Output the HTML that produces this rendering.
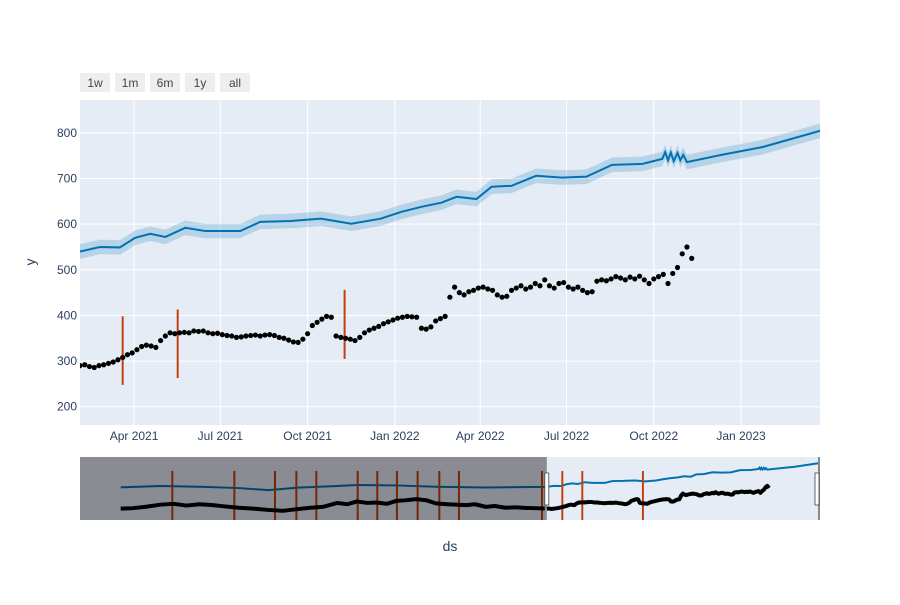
<!DOCTYPE html>
<html><head><meta charset="utf-8"><style>
body{margin:0;background:#fff;font-family:"Liberation Sans",sans-serif}
svg text{font-family:"Liberation Sans",sans-serif}
</style></head><body>
<svg id="c" width="900" height="600" xmlns="http://www.w3.org/2000/svg"></svg>
<script>
// ---- data ----
const actualStart = '2021-02-03';
const actualStepDays = 5;
const actualValues = [290,292,288,286,290,292,295,298,303,308,314,318,325,332,335,333,330,345,355,362,360,362,363,362,366,365,366,362,360,361,358,356,355,352,353,355,356,357,355,357,358,356,352,350,346,342,341,348,360,378,385,392,398,396,355,352,350,348,345,352,362,368,372,376,382,386,390,394,396,398,397,396,372,370,375,388,393,398,440,462,450,445,452,455,460,462,458,455,445,440,442,455,460,465,458,462,470,465,478,465,460,470,472,462,458,462,455,450,452,475,478,476,480,485,482,478,484,480,486,478,470,480,485,490,470,492,505,535,550,525];
const historyDates = ['2017-09-15','2017-10-20','2017-11-25','2018-01-08','2018-02-15','2018-03-25','2018-05-02','2018-06-10','2018-07-15','2018-08-24','2018-10-05','2018-11-18','2018-12-30','2019-02-12','2019-03-20','2019-04-25','2019-06-06','2019-07-05','2019-08-02','2019-09-01','2019-09-28','2019-10-28','2019-11-24','2019-12-20','2020-01-21','2020-02-20','2020-03-18','2020-04-20','2020-06-14','2020-07-10','2020-08-10','2020-09-05','2020-10-06','2020-11-05','2020-12-01','2021-01-01','2021-01-28'];
const historyValues = [290,295,310,335,345,325,340,330,315,300,290,275,265,285,300,310,355,340,372,355,360,345,378,385,398,385,350,340,330,340,310,320,300,305,298,295,292];
const fcDates = ['2017-09-15','2018-01-08','2018-05-02','2018-08-24','2018-11-18','2019-02-12','2019-06-06','2019-08-02','2019-11-24','2020-03-18','2020-08-10','2021-01-28',
 '2021-02-03','2021-02-24','2021-03-17','2021-04-02','2021-04-18','2021-05-04','2021-05-25','2021-06-15','2021-07-22','2021-08-12','2021-09-13','2021-10-15','2021-11-16','2021-12-17','2022-01-08','2022-01-29','2022-02-19','2022-03-07','2022-03-28','2022-04-13','2022-05-04','2022-05-30','2022-06-26','2022-07-22','2022-08-18','2022-09-19','2022-10-10','2022-10-13','2022-10-16','2022-10-19','2022-10-22','2022-10-26','2022-10-29','2022-11-01','2022-11-05','2022-12-12','2023-01-24','2023-04-07'];
const fcValues = [533,548,540,525,501,530,548,560,555,540,532,538,
 540,550,549,570,579,572,592,585,585,605,607,612,601,612,627,638,647,660,655,682,684,706,702,704,730,732,743,758,740,757,738,756,740,752,736,752,769,812];
const fcBand = 16;
const cpDates = ['2018-02-12','2018-08-11','2018-12-07','2019-02-07','2019-04-06','2019-08-04','2019-09-30','2019-11-26','2020-01-25','2020-03-28','2020-05-24','2021-01-20','2021-03-20','2021-05-17','2021-11-09'];
const cpLow = [260,230,200,220,240,280,300,290,320,280,260,220,248,263,305];
const cpHigh = [410,380,350,370,390,430,450,440,470,430,410,370,398,413,456];
const yTicks = [200,300,400,500,600,700,800];
const xTickDates = ['2021-04-01','2021-07-01','2021-10-01','2022-01-01','2022-04-01','2022-07-01','2022-10-01','2023-01-01'];
const xTickLabels = ['Apr 2021','Jul 2021','Oct 2021','Jan 2022','Apr 2022','Jul 2022','Oct 2022','Jan 2023'];
const buttons = ['1w','1m','6m','1y','all'];

// ---- axes ----
const D = s => Date.parse(s+'T00:00:00Z')/86400000;
const P = {l:80,r:820,t:100,b:425};
const mainX0 = D('2021-02-03'), pxPerDay = 0.9484;
const x = d => P.l + (D(d)-mainX0)*pxPerDay;
const xn = n => P.l + (n-mainX0)*pxPerDay;
const yMin=160,yMax=872;
const y = v => P.b - (v-yMin)/(yMax-yMin)*(P.b-P.t);
const S = {l:80,r:820,t:457,b:520};
const sX0 = D('2017-05-20'), sX1 = D('2023-04-07');
const sx = n => S.l + (n-sX0)/(sX1-sX0)*(S.r-S.l);
const sy = v => S.b - (v-160)/(880-160)*(S.b-S.t);

const svg = document.getElementById('c');
const NS='http://www.w3.org/2000/svg';
function mk(tag, attrs, parent){const e=document.createElementNS(NS,tag);for(const k in attrs)e.setAttribute(k,attrs[k]);(parent||svg).appendChild(e);return e;}

const defs = mk('defs',{});
const cp = mk('clipPath',{id:'mc'},defs); mk('rect',{x:P.l,y:P.t,width:P.r-P.l,height:P.b-P.t},cp);
const cs = mk('clipPath',{id:'sc'},defs); mk('rect',{x:S.l,y:S.t,width:S.r-S.l,height:S.b-S.t},cs);

let bg = mk('rect',{x:P.l,y:P.t,width:P.r-P.l,height:P.b-P.t,fill:'#e5ecf6'});



yTicks.forEach(v=>{
  const g=mk('line',{x1:P.l,x2:P.r,y1:y(v),y2:y(v),stroke:'#fff','stroke-width':1});
  
  
  const t=mk('text',{x:P.l-3,y:y(v)+4,'text-anchor':'end','font-size':12,fill:'#2a3f5f'});
  t.textContent=v;
  
  
});
xTickDates.forEach((d,i)=>{
  const g=mk('line',{x1:x(d),x2:x(d),y1:P.t,y2:P.b,stroke:'#fff','stroke-width':1});
  
  
  const t=mk('text',{x:x(d),y:P.b+15,'text-anchor':'middle','font-size':12,fill:'#2a3f5f'});
  t.textContent=xTickLabels[i];
  
  
});

const mg = mk('g',{'clip-path':'url(#mc)'});


let up='',dn='',ln='';
fcDates.forEach((d,i)=>{up+=(i?'L':'M')+x(d)+','+y(fcValues[i]+fcBand);ln+=(i?'L':'M')+x(d)+','+y(fcValues[i]);});
for(let i=fcDates.length-1;i>=0;i--)dn+='L'+x(fcDates[i])+','+y(fcValues[i]-fcBand);
let band=mk('path',{d:up+dn+'Z',fill:'rgba(0,114,178,0.2)'},mg);


let fl=mk('path',{d:ln,fill:'none',stroke:'#0072B2','stroke-width':2},mg);


cpDates.forEach((d,i)=>{
  const l=mk('line',{x1:x(d),x2:x(d),y1:y(cpLow[i]),y2:y(cpHigh[i]),stroke:'#c2410c','stroke-width':2},mg);
  
  
});
const a0=D(actualStart);
actualValues.forEach((v,i)=>{
  const c=mk('circle',{cx:xn(a0+i*actualStepDays),cy:y(v),r:2.6,fill:'#000'},mg);
  
  
});

buttons.forEach((b,i)=>{
  const g=mk('g',{});
  
  
  mk('rect',{x:80+i*35,y:73,width:30,height:19,fill:'#eeeeee'},g);
  const t=mk('text',{x:95+i*35,y:87,'text-anchor':'middle','font-size':12,fill:'#444'},g);
  t.textContent=b;
});

let yt=mk('text',{x:35,y:262,'text-anchor':'middle','font-size':14,fill:'#2a3f5f',transform:'rotate(-90 35 262)'});
yt.textContent='y';


let xt=mk('text',{x:450,y:551,'text-anchor':'middle','font-size':14,fill:'#2a3f5f'});
xt.textContent='ds';



const sg=mk('g',{'clip-path':'url(#sc)'});


mk('rect',{x:S.l,y:S.t,width:S.r-S.l,height:S.b-S.t,fill:'#e5ecf6'},sg);
let sl='';
fcDates.forEach((d,i)=>{sl+=(i?'L':'M')+sx(D(d))+','+sy(fcValues[i]);});
mk('path',{d:sl,fill:'none',stroke:'#0072B2','stroke-width':2},sg);
cpDates.forEach(d=>{
  const l=mk('line',{x1:sx(D(d)),x2:sx(D(d)),y1:471,y2:S.b,stroke:'#c2410c','stroke-width':2},sg);
  
  
});
let hl='';
historyDates.forEach((d,i)=>{hl+=(i?'L':'M')+sx(D(d))+','+sy(historyValues[i]);});
mk('path',{d:hl,fill:'none',stroke:'#000','stroke-width':4,'stroke-linejoin':'round'},sg);
let al='';
actualValues.forEach((v,i)=>{al+=(i?'L':'M')+sx(a0+i*actualStepDays)+','+sy(v);});
mk('path',{d:al,fill:'none',stroke:'#000','stroke-width':4,'stroke-linejoin':'round'},sg);
const selL=sx(mainX0);
let mask=mk('rect',{x:S.l,y:S.t,width:selL-S.l,height:S.b-S.t,fill:'rgba(0,0,0,0.4)'},sg);


let h1=mk('rect',{x:selL-2,y:473,width:4,height:32,fill:'#fff',stroke:'#444','stroke-width':0.8});


mk('rect',{x:818,y:S.t,width:2,height:S.b-S.t,fill:'#888'});
let h2=mk('rect',{x:815,y:473,width:4,height:32,fill:'#fff',stroke:'#444','stroke-width':0.8});


</script>
</body></html>
